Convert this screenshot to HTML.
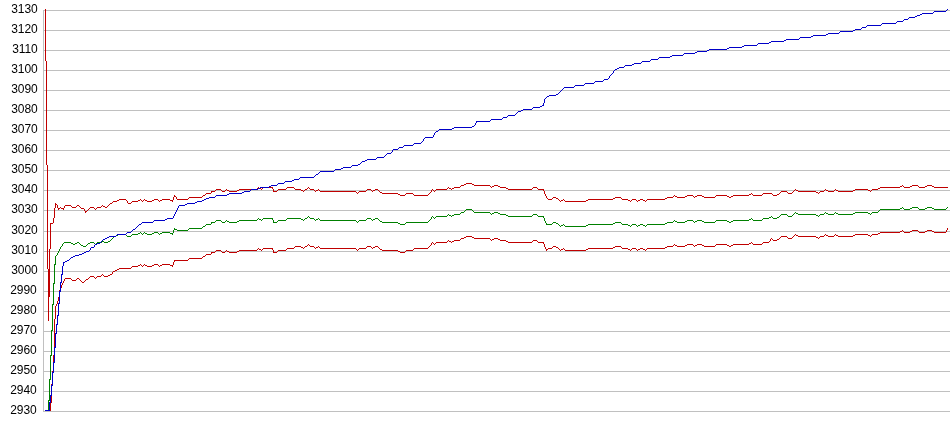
<!DOCTYPE html>
<html><head><meta charset="utf-8"><title>chart</title>
<style>
html,body{margin:0;padding:0;background:#fff;}
svg{display:block;}
text{font-family:"Liberation Sans",Arial,sans-serif;font-size:12px;fill:#000;letter-spacing:-0.1px;}
</style></head><body>
<svg style="will-change:transform" width="950" height="435" viewBox="0 0 950 435">
<rect x="0" y="0" width="950" height="435" fill="#ffffff"/>
<g shape-rendering="crispEdges" fill="#c0c0c0">
<rect x="43" y="10" width="907" height="1"/>
<rect x="43" y="30" width="907" height="1"/>
<rect x="43" y="50" width="907" height="1"/>
<rect x="43" y="70" width="907" height="1"/>
<rect x="43" y="90" width="907" height="1"/>
<rect x="43" y="110" width="907" height="1"/>
<rect x="43" y="130" width="907" height="1"/>
<rect x="43" y="150" width="907" height="1"/>
<rect x="43" y="170" width="907" height="1"/>
<rect x="43" y="190" width="907" height="1"/>
<rect x="43" y="210" width="907" height="1"/>
<rect x="43" y="231" width="907" height="1"/>
<rect x="43" y="251" width="907" height="1"/>
<rect x="43" y="271" width="907" height="1"/>
<rect x="43" y="291" width="907" height="1"/>
<rect x="43" y="311" width="907" height="1"/>
<rect x="43" y="331" width="907" height="1"/>
<rect x="43" y="351" width="907" height="1"/>
<rect x="43" y="371" width="907" height="1"/>
<rect x="43" y="391" width="907" height="1"/>
<rect x="43" y="411" width="907" height="1"/>
<rect x="43" y="10" width="1" height="402"/>
</g>
<g text-anchor="end">
<text x="37.6" y="13">3130</text>
<text x="37.6" y="33">3120</text>
<text x="37.6" y="53">3110</text>
<text x="37.6" y="73">3100</text>
<text x="37.6" y="93">3090</text>
<text x="37.6" y="113">3080</text>
<text x="37.6" y="133">3070</text>
<text x="37.6" y="153">3060</text>
<text x="37.6" y="173">3050</text>
<text x="37.6" y="193">3040</text>
<text x="37.6" y="213">3030</text>
<text x="37.6" y="234">3020</text>
<text x="37.6" y="254">3010</text>
<text x="37.6" y="274">3000</text>
<text x="36.6" y="294">2990</text>
<text x="36.6" y="314">2980</text>
<text x="36.6" y="334">2970</text>
<text x="36.6" y="354">2960</text>
<text x="36.6" y="374">2950</text>
<text x="36.6" y="394">2940</text>
<text x="36.6" y="414">2930</text>
</g>
<g stroke="none" shape-rendering="crispEdges">
<path fill="#008000" d="M902 207h1v1h-1zM912 207h6v1h-6zM927 207h5v1h-5zM947 207h1v1h-1zM900 208h2v1h-2zM903 208h1v1h-1zM910 208h2v1h-2zM918 208h1v1h-1zM925 208h2v1h-2zM932 208h2v1h-2zM946 208h1v1h-1zM466 209h6v1h-6zM880 209h20v1h-20zM904 209h6v1h-6zM919 209h6v1h-6zM934 209h12v1h-12zM465 210h1v1h-1zM472 210h1v1h-1zM879 210h1v1h-1zM464 211h1v1h-1zM473 211h1v1h-1zM878 211h1v1h-1zM461 212h3v1h-3zM474 212h16v1h-16zM494 212h4v1h-4zM795 212h1v1h-1zM825 212h1v1h-1zM835 212h1v1h-1zM855 212h13v1h-13zM872 212h6v1h-6zM460 213h1v1h-1zM490 213h1v1h-1zM492 213h2v1h-2zM498 213h2v1h-2zM794 213h1v1h-1zM796 213h2v1h-2zM824 213h1v1h-1zM826 213h2v1h-2zM834 213h1v1h-1zM836 213h2v1h-2zM853 213h2v1h-2zM868 213h2v1h-2zM871 213h1v1h-1zM448 214h1v1h-1zM454 214h6v1h-6zM491 214h1v1h-1zM500 214h6v1h-6zM533 214h4v1h-4zM781 214h6v1h-6zM793 214h1v1h-1zM798 214h18v1h-18zM820 214h4v1h-4zM828 214h6v1h-6zM838 214h15v1h-15zM870 214h1v1h-1zM447 215h1v1h-1zM449 215h2v1h-2zM452 215h2v1h-2zM506 215h2v1h-2zM532 215h1v1h-1zM537 215h1v1h-1zM780 215h1v1h-1zM787 215h1v1h-1zM792 215h1v1h-1zM816 215h2v1h-2zM819 215h1v1h-1zM308 216h1v1h-1zM432 216h1v1h-1zM436 216h11v1h-11zM451 216h1v1h-1zM508 216h24v1h-24zM538 216h6v1h-6zM771 216h1v1h-1zM779 216h1v1h-1zM788 216h4v1h-4zM818 216h1v1h-1zM307 217h1v1h-1zM309 217h1v1h-1zM431 217h1v1h-1zM433 217h1v1h-1zM435 217h1v1h-1zM543 217h1v1h-1zM769 217h2v1h-2zM772 217h1v1h-1zM777 217h2v1h-2zM258 218h1v1h-1zM263 218h10v1h-10zM287 218h14v1h-14zM305 218h2v1h-2zM310 218h4v1h-4zM318 218h1v1h-1zM367 218h4v1h-4zM375 218h3v1h-3zM431 218h1v1h-1zM434 218h1v1h-1zM544 218h1v1h-1zM751 218h1v1h-1zM763 218h6v1h-6zM773 218h4v1h-4zM257 219h1v1h-1zM259 219h2v1h-2zM262 219h1v1h-1zM272 219h1v1h-1zM286 219h1v1h-1zM301 219h2v1h-2zM304 219h1v1h-1zM314 219h1v1h-1zM316 219h2v1h-2zM319 219h1v1h-1zM366 219h1v1h-1zM371 219h1v1h-1zM373 219h2v1h-2zM378 219h1v1h-1zM430 219h1v1h-1zM544 219h1v1h-1zM749 219h2v1h-2zM752 219h1v1h-1zM762 219h1v1h-1zM216 220h5v1h-5zM226 220h1v1h-1zM239 220h18v1h-18zM261 220h1v1h-1zM273 220h1v1h-1zM278 220h8v1h-8zM303 220h1v1h-1zM315 220h1v1h-1zM320 220h36v1h-36zM359 220h7v1h-7zM372 220h1v1h-1zM379 220h1v1h-1zM429 220h1v1h-1zM544 220h1v1h-1zM674 220h1v1h-1zM687 220h6v1h-6zM697 220h5v1h-5zM716 220h11v1h-11zM733 220h16v1h-16zM753 220h9v1h-9zM215 221h1v1h-1zM221 221h1v1h-1zM225 221h1v1h-1zM227 221h2v1h-2zM237 221h2v1h-2zM273 221h1v1h-1zM277 221h1v1h-1zM356 221h1v1h-1zM358 221h1v1h-1zM380 221h2v1h-2zM428 221h1v1h-1zM545 221h1v1h-1zM673 221h1v1h-1zM675 221h2v1h-2zM685 221h2v1h-2zM693 221h1v1h-1zM695 221h2v1h-2zM702 221h2v1h-2zM715 221h1v1h-1zM727 221h2v1h-2zM731 221h2v1h-2zM211 222h4v1h-4zM222 222h3v1h-3zM229 222h8v1h-8zM273 222h4v1h-4zM357 222h1v1h-1zM382 222h16v1h-16zM406 222h22v1h-22zM545 222h1v1h-1zM553 222h3v1h-3zM615 222h6v1h-6zM667 222h6v1h-6zM677 222h8v1h-8zM694 222h1v1h-1zM704 222h11v1h-11zM729 222h2v1h-2zM211 223h1v1h-1zM398 223h2v1h-2zM405 223h1v1h-1zM546 223h1v1h-1zM552 223h1v1h-1zM556 223h2v1h-2zM613 223h2v1h-2zM621 223h1v1h-1zM665 223h2v1h-2zM206 224h5v1h-5zM400 224h5v1h-5zM546 224h6v1h-6zM558 224h1v1h-1zM563 224h1v1h-1zM588 224h25v1h-25zM622 224h6v1h-6zM632 224h4v1h-4zM640 224h3v1h-3zM647 224h18v1h-18zM205 225h1v1h-1zM559 225h1v1h-1zM561 225h2v1h-2zM564 225h1v1h-1zM586 225h2v1h-2zM628 225h2v1h-2zM631 225h1v1h-1zM636 225h1v1h-1zM638 225h2v1h-2zM643 225h2v1h-2zM646 225h1v1h-1zM203 226h2v1h-2zM560 226h1v1h-1zM565 226h21v1h-21zM630 226h1v1h-1zM637 226h1v1h-1zM645 226h1v1h-1zM202 227h1v1h-1zM174 228h1v1h-1zM189 228h13v1h-13zM174 229h3v1h-3zM188 229h1v1h-1zM173 230h1v1h-1zM177 230h11v1h-11zM173 231h1v1h-1zM140 232h1v1h-1zM144 232h1v1h-1zM154 232h4v1h-4zM162 232h8v1h-8zM173 232h1v1h-1zM138 233h2v1h-2zM141 233h1v1h-1zM143 233h1v1h-1zM145 233h2v1h-2zM152 233h2v1h-2zM158 233h1v1h-1zM160 233h2v1h-2zM170 233h3v1h-3zM118 234h8v1h-8zM132 234h6v1h-6zM142 234h1v1h-1zM147 234h5v1h-5zM159 234h1v1h-1zM172 234h1v1h-1zM116 235h2v1h-2zM126 235h1v1h-1zM131 235h1v1h-1zM114 236h2v1h-2zM127 236h4v1h-4zM113 237h1v1h-1zM112 238h1v1h-1zM111 239h1v1h-1zM110 240h1v1h-1zM102 241h2v1h-2zM108 241h2v1h-2zM64 242h7v1h-7zM77 242h2v1h-2zM90 242h4v1h-4zM97 242h5v1h-5zM104 242h4v1h-4zM63 243h1v1h-1zM71 243h2v1h-2zM75 243h2v1h-2zM79 243h1v1h-1zM88 243h2v1h-2zM94 243h1v1h-1zM96 243h1v1h-1zM62 244h1v1h-1zM73 244h2v1h-2zM80 244h1v1h-1zM87 244h1v1h-1zM95 244h1v1h-1zM62 245h1v1h-1zM81 245h2v1h-2zM86 245h1v1h-1zM61 246h1v1h-1zM83 246h3v1h-3zM60 247h1v1h-1zM60 248h1v1h-1zM59 249h1v1h-1zM59 250h1v1h-1zM58 251h1v1h-1zM58 252h1v1h-1zM57 253h1v1h-1zM57 254h1v1h-1zM56 255h1v1h-1zM55 256h1v1h-1zM55 257h1v1h-1zM55 258h1v1h-1zM55 259h1v1h-1zM55 260h1v1h-1zM55 261h1v1h-1zM55 262h1v1h-1zM55 263h1v1h-1zM54 264h2v1h-2zM54 265h1v1h-1zM54 266h1v1h-1zM54 267h1v1h-1zM54 268h1v1h-1zM54 269h1v1h-1zM54 270h1v1h-1zM54 271h1v1h-1zM54 272h1v1h-1zM54 273h1v1h-1zM54 274h1v1h-1zM54 275h1v1h-1zM54 276h1v1h-1zM54 277h1v1h-1zM54 278h1v1h-1zM54 279h1v1h-1zM54 280h1v1h-1zM54 281h1v1h-1zM54 282h1v1h-1zM53 283h2v1h-2zM53 284h1v1h-1zM53 285h1v1h-1zM53 286h1v1h-1zM53 287h1v1h-1zM53 288h1v1h-1zM53 289h1v1h-1zM53 290h1v1h-1zM53 291h1v1h-1zM53 292h1v1h-1zM53 293h1v1h-1zM53 294h1v1h-1zM53 295h1v1h-1zM53 296h1v1h-1zM53 297h1v1h-1zM53 298h1v1h-1zM53 299h1v1h-1zM53 300h1v1h-1zM53 301h1v1h-1zM53 302h1v1h-1zM53 303h1v1h-1zM52 304h2v1h-2zM52 305h1v1h-1zM52 306h1v1h-1zM52 307h1v1h-1zM52 308h1v1h-1zM52 309h1v1h-1zM52 310h1v1h-1zM52 311h1v1h-1zM52 312h1v1h-1zM52 313h1v1h-1zM52 314h1v1h-1zM52 315h1v1h-1zM52 316h1v1h-1zM52 317h1v1h-1zM52 318h1v1h-1zM52 319h1v1h-1zM52 320h1v1h-1zM52 321h1v1h-1zM52 322h1v1h-1zM52 323h1v1h-1zM52 324h1v1h-1zM52 325h1v1h-1zM52 326h1v1h-1zM52 327h1v1h-1zM52 328h1v1h-1zM52 329h1v1h-1zM51 330h2v1h-2zM51 331h1v1h-1zM51 332h1v1h-1zM51 333h1v1h-1zM51 334h1v1h-1zM51 335h1v1h-1zM51 336h1v1h-1zM51 337h1v1h-1zM51 338h1v1h-1zM51 339h1v1h-1zM51 340h1v1h-1zM51 341h1v1h-1zM51 342h1v1h-1zM51 343h1v1h-1zM51 344h1v1h-1zM51 345h1v1h-1zM51 346h1v1h-1zM51 347h1v1h-1zM51 348h1v1h-1zM51 349h1v1h-1zM51 350h1v1h-1zM51 351h1v1h-1zM51 352h1v1h-1zM51 353h1v1h-1zM51 354h1v1h-1zM50 355h2v1h-2zM50 356h1v1h-1zM50 357h1v1h-1zM50 358h1v1h-1zM50 359h1v1h-1zM50 360h1v1h-1zM50 361h1v1h-1zM50 362h1v1h-1zM50 363h1v1h-1zM50 364h1v1h-1zM50 365h1v1h-1zM50 366h1v1h-1zM50 367h1v1h-1zM50 368h1v1h-1zM50 369h1v1h-1zM50 370h1v1h-1zM50 371h1v1h-1zM50 372h1v1h-1zM50 373h1v1h-1zM50 374h1v1h-1zM50 375h1v1h-1zM50 376h1v1h-1zM50 377h1v1h-1zM50 378h1v1h-1zM49 379h2v1h-2zM49 380h1v1h-1zM49 381h1v1h-1zM49 382h1v1h-1zM49 383h1v1h-1zM49 384h1v1h-1zM49 385h1v1h-1zM49 386h1v1h-1zM49 387h1v1h-1zM49 388h1v1h-1zM49 389h1v1h-1zM49 390h1v1h-1zM49 391h1v1h-1zM49 392h1v1h-1zM49 393h1v1h-1zM49 394h1v1h-1zM49 395h1v1h-1zM49 396h1v1h-1zM49 397h1v1h-1zM49 398h1v1h-1zM49 399h1v1h-1zM48 400h2v1h-2zM48 401h1v1h-1zM48 402h1v1h-1zM48 403h1v1h-1zM48 404h1v1h-1zM48 405h1v1h-1zM48 406h1v1h-1zM48 407h1v1h-1zM48 408h1v1h-1zM48 409h1v1h-1zM48 410h1v1h-1z"/>
<path fill="#c00000" d="M947 228h1v1h-1zM947 229h1v1h-1zM902 230h1v1h-1zM912 230h6v1h-6zM927 230h5v1h-5zM946 230h1v1h-1zM900 231h2v1h-2zM903 231h1v1h-1zM910 231h2v1h-2zM918 231h1v1h-1zM925 231h2v1h-2zM932 231h2v1h-2zM946 231h1v1h-1zM880 232h20v1h-20zM904 232h6v1h-6zM919 232h6v1h-6zM934 232h12v1h-12zM878 233h2v1h-2zM795 234h1v1h-1zM825 234h1v1h-1zM835 234h1v1h-1zM855 234h13v1h-13zM872 234h6v1h-6zM794 235h1v1h-1zM796 235h2v1h-2zM824 235h1v1h-1zM826 235h2v1h-2zM834 235h1v1h-1zM836 235h2v1h-2zM853 235h2v1h-2zM868 235h2v1h-2zM871 235h1v1h-1zM466 236h6v1h-6zM781 236h6v1h-6zM793 236h1v1h-1zM798 236h18v1h-18zM820 236h4v1h-4zM828 236h6v1h-6zM838 236h15v1h-15zM870 236h1v1h-1zM464 237h2v1h-2zM472 237h2v1h-2zM780 237h1v1h-1zM787 237h1v1h-1zM792 237h1v1h-1zM816 237h2v1h-2zM819 237h1v1h-1zM461 238h3v1h-3zM474 238h16v1h-16zM494 238h4v1h-4zM771 238h1v1h-1zM779 238h1v1h-1zM788 238h4v1h-4zM818 238h1v1h-1zM460 239h1v1h-1zM490 239h1v1h-1zM492 239h2v1h-2zM498 239h2v1h-2zM770 239h1v1h-1zM772 239h1v1h-1zM777 239h2v1h-2zM448 240h1v1h-1zM454 240h6v1h-6zM491 240h1v1h-1zM500 240h6v1h-6zM533 240h4v1h-4zM770 240h1v1h-1zM773 240h4v1h-4zM447 241h1v1h-1zM449 241h2v1h-2zM452 241h2v1h-2zM506 241h2v1h-2zM532 241h1v1h-1zM537 241h1v1h-1zM769 241h1v1h-1zM432 242h1v1h-1zM436 242h11v1h-11zM451 242h1v1h-1zM508 242h24v1h-24zM538 242h6v1h-6zM751 242h1v1h-1zM763 242h6v1h-6zM431 243h1v1h-1zM433 243h1v1h-1zM435 243h1v1h-1zM543 243h1v1h-1zM749 243h2v1h-2zM752 243h1v1h-1zM762 243h1v1h-1zM308 244h1v1h-1zM431 244h1v1h-1zM434 244h1v1h-1zM544 244h1v1h-1zM674 244h1v1h-1zM687 244h6v1h-6zM697 244h5v1h-5zM716 244h11v1h-11zM733 244h16v1h-16zM753 244h9v1h-9zM307 245h1v1h-1zM309 245h1v1h-1zM430 245h1v1h-1zM544 245h1v1h-1zM673 245h1v1h-1zM675 245h2v1h-2zM685 245h2v1h-2zM693 245h1v1h-1zM695 245h2v1h-2zM702 245h2v1h-2zM715 245h1v1h-1zM727 245h2v1h-2zM731 245h2v1h-2zM295 246h6v1h-6zM305 246h2v1h-2zM310 246h4v1h-4zM318 246h1v1h-1zM367 246h4v1h-4zM375 246h3v1h-3zM429 246h1v1h-1zM544 246h1v1h-1zM553 246h3v1h-3zM615 246h6v1h-6zM667 246h6v1h-6zM677 246h8v1h-8zM694 246h1v1h-1zM704 246h11v1h-11zM729 246h2v1h-2zM294 247h1v1h-1zM301 247h2v1h-2zM304 247h1v1h-1zM314 247h1v1h-1zM316 247h2v1h-2zM319 247h1v1h-1zM366 247h1v1h-1zM371 247h1v1h-1zM373 247h2v1h-2zM378 247h1v1h-1zM428 247h1v1h-1zM545 247h1v1h-1zM552 247h1v1h-1zM556 247h2v1h-2zM613 247h2v1h-2zM621 247h1v1h-1zM665 247h2v1h-2zM258 248h1v1h-1zM263 248h10v1h-10zM287 248h7v1h-7zM303 248h1v1h-1zM315 248h1v1h-1zM320 248h36v1h-36zM359 248h7v1h-7zM372 248h1v1h-1zM379 248h1v1h-1zM414 248h14v1h-14zM545 248h1v1h-1zM548 248h4v1h-4zM558 248h1v1h-1zM563 248h1v1h-1zM588 248h25v1h-25zM622 248h6v1h-6zM632 248h4v1h-4zM640 248h3v1h-3zM647 248h18v1h-18zM257 249h1v1h-1zM259 249h2v1h-2zM262 249h1v1h-1zM272 249h1v1h-1zM286 249h1v1h-1zM356 249h1v1h-1zM358 249h1v1h-1zM380 249h2v1h-2zM413 249h1v1h-1zM546 249h2v1h-2zM559 249h1v1h-1zM561 249h2v1h-2zM564 249h1v1h-1zM586 249h2v1h-2zM628 249h2v1h-2zM631 249h1v1h-1zM636 249h1v1h-1zM638 249h2v1h-2zM643 249h2v1h-2zM646 249h1v1h-1zM216 250h5v1h-5zM226 250h1v1h-1zM239 250h18v1h-18zM261 250h1v1h-1zM273 250h1v1h-1zM278 250h8v1h-8zM357 250h1v1h-1zM382 250h16v1h-16zM406 250h7v1h-7zM546 250h1v1h-1zM560 250h1v1h-1zM565 250h21v1h-21zM630 250h1v1h-1zM637 250h1v1h-1zM645 250h1v1h-1zM215 251h1v1h-1zM221 251h1v1h-1zM225 251h1v1h-1zM227 251h2v1h-2zM237 251h2v1h-2zM273 251h1v1h-1zM277 251h1v1h-1zM398 251h2v1h-2zM405 251h1v1h-1zM211 252h4v1h-4zM222 252h3v1h-3zM229 252h8v1h-8zM273 252h4v1h-4zM400 252h5v1h-5zM211 253h1v1h-1zM206 254h5v1h-5zM205 255h1v1h-1zM203 256h2v1h-2zM202 257h1v1h-1zM189 258h13v1h-13zM188 259h1v1h-1zM174 260h14v1h-14zM174 261h1v1h-1zM173 262h1v1h-1zM173 263h1v1h-1zM140 264h1v1h-1zM144 264h1v1h-1zM154 264h4v1h-4zM162 264h8v1h-8zM173 264h1v1h-1zM138 265h2v1h-2zM141 265h1v1h-1zM143 265h1v1h-1zM145 265h2v1h-2zM152 265h2v1h-2zM158 265h1v1h-1zM160 265h2v1h-2zM170 265h3v1h-3zM132 266h6v1h-6zM142 266h1v1h-1zM147 266h5v1h-5zM159 266h1v1h-1zM172 266h1v1h-1zM131 267h1v1h-1zM119 268h12v1h-12zM117 269h2v1h-2zM115 270h2v1h-2zM113 271h2v1h-2zM112 272h1v1h-1zM112 273h1v1h-1zM102 274h1v1h-1zM110 274h2v1h-2zM101 275h1v1h-1zM103 275h1v1h-1zM108 275h2v1h-2zM90 276h4v1h-4zM97 276h4v1h-4zM104 276h4v1h-4zM89 277h1v1h-1zM94 277h1v1h-1zM96 277h1v1h-1zM65 278h6v1h-6zM77 278h2v1h-2zM88 278h1v1h-1zM95 278h1v1h-1zM64 279h1v1h-1zM71 279h1v1h-1zM76 279h1v1h-1zM79 279h1v1h-1zM86 279h2v1h-2zM64 280h1v1h-1zM72 280h4v1h-4zM80 280h1v1h-1zM85 280h1v1h-1zM63 281h1v1h-1zM81 281h1v1h-1zM84 281h1v1h-1zM63 282h1v1h-1zM82 282h2v1h-2zM62 283h1v1h-1zM62 284h1v1h-1zM61 285h1v1h-1zM61 286h1v1h-1zM61 287h1v1h-1zM60 288h1v1h-1zM60 289h1v1h-1zM59 290h1v1h-1zM59 291h1v1h-1zM59 292h1v1h-1zM59 293h1v1h-1zM59 294h1v1h-1zM59 295h1v1h-1zM59 296h1v1h-1zM58 297h1v1h-1zM58 298h1v1h-1zM58 299h1v1h-1zM58 300h1v1h-1zM57 301h1v1h-1zM57 302h1v1h-1zM57 303h1v1h-1zM56 304h1v1h-1zM56 305h1v1h-1zM55 306h1v1h-1zM55 307h1v1h-1zM55 308h1v1h-1zM55 309h1v1h-1zM55 310h1v1h-1zM55 311h1v1h-1zM55 312h1v1h-1zM55 313h1v1h-1zM55 314h1v1h-1zM55 315h1v1h-1zM55 316h1v1h-1zM55 317h1v1h-1zM55 318h1v1h-1zM54 319h1v1h-1zM54 320h1v1h-1zM54 321h1v1h-1zM54 322h1v1h-1zM54 323h1v1h-1zM54 324h1v1h-1zM54 325h1v1h-1zM54 326h1v1h-1zM54 327h1v1h-1zM54 328h1v1h-1zM54 329h1v1h-1zM54 330h1v1h-1zM54 331h1v1h-1zM54 332h1v1h-1zM54 333h1v1h-1zM54 334h1v1h-1zM54 335h1v1h-1zM54 336h1v1h-1zM54 337h1v1h-1zM54 338h1v1h-1zM54 339h1v1h-1zM54 340h1v1h-1zM54 341h1v1h-1zM54 342h1v1h-1zM54 343h1v1h-1zM54 344h1v1h-1zM54 345h1v1h-1zM54 346h1v1h-1zM54 347h1v1h-1zM54 348h1v1h-1zM54 349h1v1h-1zM54 350h1v1h-1zM54 351h1v1h-1zM54 352h1v1h-1zM54 353h1v1h-1zM54 354h1v1h-1zM53 355h1v1h-1zM53 356h1v1h-1zM53 357h1v1h-1zM53 358h1v1h-1zM53 359h1v1h-1zM53 360h1v1h-1zM53 361h1v1h-1zM53 362h1v1h-1zM53 363h1v1h-1zM53 364h1v1h-1zM53 365h1v1h-1zM53 366h1v1h-1zM53 367h1v1h-1zM53 368h1v1h-1zM53 369h1v1h-1zM53 370h1v1h-1zM52 371h1v1h-1zM52 372h1v1h-1zM52 373h1v1h-1zM52 374h1v1h-1zM52 375h1v1h-1zM52 376h1v1h-1zM52 377h1v1h-1zM52 378h1v1h-1zM52 379h1v1h-1zM52 380h1v1h-1zM52 381h1v1h-1zM52 382h1v1h-1zM52 383h1v1h-1zM51 384h1v1h-1zM51 385h1v1h-1zM51 386h1v1h-1zM51 387h1v1h-1zM51 388h1v1h-1zM51 389h1v1h-1zM51 390h1v1h-1zM51 391h1v1h-1zM51 392h1v1h-1zM51 393h1v1h-1zM51 394h1v1h-1zM51 395h1v1h-1zM51 396h1v1h-1zM51 397h1v1h-1zM51 398h1v1h-1zM51 399h1v1h-1zM51 400h1v1h-1zM51 401h1v1h-1zM50 402h2v1h-2zM50 403h1v1h-1zM50 404h1v1h-1zM50 405h1v1h-1zM50 406h1v1h-1zM50 407h1v1h-1zM50 408h1v1h-1zM50 409h1v1h-1zM50 410h1v1h-1z"/>
<path fill="#c00000" d="M45 9h1v1h-1zM45 10h1v1h-1zM45 11h1v1h-1zM45 12h1v1h-1zM45 13h1v1h-1zM45 14h1v1h-1zM45 15h1v1h-1zM45 16h1v1h-1zM45 17h1v1h-1zM45 18h1v1h-1zM45 19h1v1h-1zM45 20h1v1h-1zM45 21h1v1h-1zM45 22h1v1h-1zM45 23h1v1h-1zM45 24h1v1h-1zM45 25h1v1h-1zM45 26h1v1h-1zM45 27h1v1h-1zM45 28h1v1h-1zM45 29h1v1h-1zM45 30h1v1h-1zM45 31h1v1h-1zM45 32h1v1h-1zM45 33h1v1h-1zM45 34h1v1h-1zM45 35h1v1h-1zM45 36h1v1h-1zM45 37h1v1h-1zM45 38h1v1h-1zM45 39h1v1h-1zM45 40h1v1h-1zM45 41h1v1h-1zM45 42h1v1h-1zM45 43h1v1h-1zM45 44h1v1h-1zM45 45h1v1h-1zM45 46h1v1h-1zM45 47h1v1h-1zM45 48h1v1h-1zM45 49h1v1h-1zM45 50h1v1h-1zM45 51h1v1h-1zM45 52h1v1h-1zM45 53h1v1h-1zM45 54h1v1h-1zM45 55h1v1h-1zM45 56h1v1h-1zM45 57h1v1h-1zM45 58h1v1h-1zM45 59h1v1h-1zM45 60h1v1h-1zM46 61h1v1h-1zM46 62h1v1h-1zM46 63h1v1h-1zM46 64h1v1h-1zM46 65h1v1h-1zM46 66h1v1h-1zM46 67h1v1h-1zM46 68h1v1h-1zM46 69h1v1h-1zM46 70h1v1h-1zM46 71h1v1h-1zM46 72h1v1h-1zM46 73h1v1h-1zM46 74h1v1h-1zM46 75h1v1h-1zM46 76h1v1h-1zM46 77h1v1h-1zM46 78h1v1h-1zM46 79h1v1h-1zM46 80h1v1h-1zM46 81h1v1h-1zM46 82h1v1h-1zM46 83h1v1h-1zM46 84h1v1h-1zM46 85h1v1h-1zM46 86h1v1h-1zM46 87h1v1h-1zM46 88h1v1h-1zM46 89h1v1h-1zM46 90h1v1h-1zM46 91h1v1h-1zM46 92h1v1h-1zM46 93h1v1h-1zM46 94h1v1h-1zM46 95h1v1h-1zM46 96h1v1h-1zM46 97h1v1h-1zM46 98h1v1h-1zM46 99h1v1h-1zM46 100h1v1h-1zM46 101h1v1h-1zM46 102h1v1h-1zM46 103h1v1h-1zM46 104h1v1h-1zM46 105h1v1h-1zM46 106h1v1h-1zM46 107h1v1h-1zM46 108h1v1h-1zM46 109h1v1h-1zM46 110h1v1h-1zM46 111h1v1h-1zM46 112h1v1h-1zM46 113h1v1h-1zM46 114h1v1h-1zM46 115h1v1h-1zM46 116h1v1h-1zM46 117h1v1h-1zM46 118h1v1h-1zM46 119h1v1h-1zM46 120h1v1h-1zM46 121h1v1h-1zM46 122h1v1h-1zM46 123h1v1h-1zM46 124h1v1h-1zM46 125h1v1h-1zM46 126h1v1h-1zM46 127h1v1h-1zM46 128h1v1h-1zM46 129h1v1h-1zM46 130h1v1h-1zM46 131h1v1h-1zM46 132h1v1h-1zM46 133h1v1h-1zM46 134h1v1h-1zM46 135h1v1h-1zM46 136h1v1h-1zM46 137h1v1h-1zM46 138h1v1h-1zM46 139h1v1h-1zM46 140h1v1h-1zM46 141h1v1h-1zM46 142h1v1h-1zM46 143h1v1h-1zM46 144h1v1h-1zM46 145h1v1h-1zM46 146h1v1h-1zM46 147h1v1h-1zM46 148h1v1h-1zM46 149h1v1h-1zM46 150h1v1h-1zM46 151h1v1h-1zM46 152h1v1h-1zM46 153h1v1h-1zM46 154h1v1h-1zM46 155h1v1h-1zM46 156h1v1h-1zM46 157h1v1h-1zM46 158h1v1h-1zM46 159h1v1h-1zM46 160h1v1h-1zM46 161h1v1h-1zM46 162h1v1h-1zM46 163h1v1h-1zM46 164h1v1h-1zM47 165h1v1h-1zM47 166h1v1h-1zM47 167h1v1h-1zM47 168h1v1h-1zM47 169h1v1h-1zM47 170h1v1h-1zM47 171h1v1h-1zM47 172h1v1h-1zM47 173h1v1h-1zM47 174h1v1h-1zM47 175h1v1h-1zM47 176h1v1h-1zM47 177h1v1h-1zM47 178h1v1h-1zM47 179h1v1h-1zM47 180h1v1h-1zM47 181h1v1h-1zM47 182h1v1h-1zM47 183h1v1h-1zM466 183h6v1h-6zM47 184h1v1h-1zM464 184h2v1h-2zM472 184h2v1h-2zM47 185h1v1h-1zM461 185h3v1h-3zM474 185h16v1h-16zM494 185h4v1h-4zM902 185h1v1h-1zM912 185h6v1h-6zM927 185h5v1h-5zM47 186h1v1h-1zM460 186h1v1h-1zM490 186h1v1h-1zM492 186h2v1h-2zM498 186h2v1h-2zM900 186h2v1h-2zM903 186h1v1h-1zM910 186h2v1h-2zM918 186h1v1h-1zM925 186h2v1h-2zM932 186h2v1h-2zM47 187h1v1h-1zM258 187h1v1h-1zM263 187h10v1h-10zM287 187h7v1h-7zM308 187h1v1h-1zM448 187h1v1h-1zM454 187h6v1h-6zM491 187h1v1h-1zM500 187h6v1h-6zM533 187h4v1h-4zM880 187h20v1h-20zM904 187h6v1h-6zM919 187h6v1h-6zM934 187h14v1h-14zM47 188h1v1h-1zM257 188h1v1h-1zM259 188h2v1h-2zM262 188h1v1h-1zM272 188h1v1h-1zM286 188h1v1h-1zM294 188h1v1h-1zM307 188h1v1h-1zM309 188h1v1h-1zM447 188h1v1h-1zM449 188h2v1h-2zM452 188h2v1h-2zM506 188h2v1h-2zM532 188h1v1h-1zM537 188h1v1h-1zM878 188h2v1h-2zM47 189h1v1h-1zM216 189h5v1h-5zM226 189h1v1h-1zM239 189h18v1h-18zM261 189h1v1h-1zM273 189h1v1h-1zM278 189h8v1h-8zM295 189h6v1h-6zM305 189h2v1h-2zM310 189h4v1h-4zM318 189h1v1h-1zM367 189h4v1h-4zM375 189h3v1h-3zM432 189h1v1h-1zM436 189h11v1h-11zM451 189h1v1h-1zM508 189h24v1h-24zM538 189h6v1h-6zM795 189h1v1h-1zM825 189h1v1h-1zM835 189h1v1h-1zM855 189h13v1h-13zM872 189h6v1h-6zM47 190h1v1h-1zM215 190h1v1h-1zM221 190h1v1h-1zM225 190h1v1h-1zM227 190h2v1h-2zM237 190h2v1h-2zM273 190h1v1h-1zM277 190h1v1h-1zM301 190h2v1h-2zM304 190h1v1h-1zM314 190h1v1h-1zM316 190h2v1h-2zM319 190h1v1h-1zM366 190h1v1h-1zM371 190h1v1h-1zM373 190h2v1h-2zM378 190h1v1h-1zM431 190h1v1h-1zM433 190h1v1h-1zM435 190h1v1h-1zM543 190h1v1h-1zM794 190h1v1h-1zM796 190h2v1h-2zM824 190h1v1h-1zM826 190h2v1h-2zM834 190h1v1h-1zM836 190h2v1h-2zM853 190h2v1h-2zM868 190h2v1h-2zM871 190h1v1h-1zM47 191h1v1h-1zM211 191h4v1h-4zM222 191h3v1h-3zM229 191h8v1h-8zM273 191h4v1h-4zM303 191h1v1h-1zM315 191h1v1h-1zM320 191h36v1h-36zM359 191h7v1h-7zM372 191h1v1h-1zM379 191h1v1h-1zM431 191h1v1h-1zM434 191h1v1h-1zM544 191h1v1h-1zM781 191h6v1h-6zM793 191h1v1h-1zM798 191h18v1h-18zM820 191h4v1h-4zM828 191h6v1h-6zM838 191h15v1h-15zM870 191h1v1h-1zM47 192h1v1h-1zM211 192h1v1h-1zM356 192h1v1h-1zM358 192h1v1h-1zM380 192h2v1h-2zM430 192h1v1h-1zM544 192h1v1h-1zM780 192h1v1h-1zM787 192h1v1h-1zM792 192h1v1h-1zM816 192h2v1h-2zM819 192h1v1h-1zM47 193h1v1h-1zM206 193h5v1h-5zM357 193h1v1h-1zM382 193h16v1h-16zM406 193h7v1h-7zM429 193h1v1h-1zM544 193h1v1h-1zM751 193h1v1h-1zM763 193h9v1h-9zM779 193h1v1h-1zM788 193h4v1h-4zM818 193h1v1h-1zM47 194h1v1h-1zM205 194h1v1h-1zM398 194h2v1h-2zM405 194h1v1h-1zM413 194h1v1h-1zM428 194h1v1h-1zM545 194h1v1h-1zM749 194h2v1h-2zM752 194h1v1h-1zM762 194h1v1h-1zM772 194h1v1h-1zM777 194h2v1h-2zM47 195h1v1h-1zM174 195h1v1h-1zM203 195h2v1h-2zM400 195h5v1h-5zM414 195h14v1h-14zM545 195h1v1h-1zM674 195h1v1h-1zM687 195h6v1h-6zM697 195h5v1h-5zM716 195h11v1h-11zM733 195h16v1h-16zM753 195h9v1h-9zM773 195h4v1h-4zM47 196h1v1h-1zM174 196h2v1h-2zM202 196h1v1h-1zM546 196h1v1h-1zM673 196h1v1h-1zM675 196h2v1h-2zM685 196h2v1h-2zM693 196h1v1h-1zM695 196h2v1h-2zM702 196h2v1h-2zM715 196h1v1h-1zM727 196h2v1h-2zM731 196h2v1h-2zM47 197h1v1h-1zM173 197h1v1h-1zM176 197h1v1h-1zM189 197h13v1h-13zM546 197h1v1h-1zM553 197h3v1h-3zM615 197h6v1h-6zM667 197h6v1h-6zM677 197h8v1h-8zM694 197h1v1h-1zM704 197h11v1h-11zM729 197h2v1h-2zM47 198h1v1h-1zM173 198h1v1h-1zM176 198h1v1h-1zM188 198h1v1h-1zM547 198h1v1h-1zM552 198h1v1h-1zM556 198h2v1h-2zM613 198h2v1h-2zM621 198h1v1h-1zM665 198h2v1h-2zM47 199h1v1h-1zM119 199h7v1h-7zM140 199h1v1h-1zM144 199h1v1h-1zM154 199h4v1h-4zM162 199h8v1h-8zM173 199h1v1h-1zM177 199h11v1h-11zM548 199h4v1h-4zM558 199h1v1h-1zM563 199h1v1h-1zM588 199h25v1h-25zM622 199h6v1h-6zM632 199h4v1h-4zM640 199h3v1h-3zM647 199h18v1h-18zM47 200h1v1h-1zM117 200h2v1h-2zM126 200h1v1h-1zM138 200h2v1h-2zM141 200h1v1h-1zM143 200h1v1h-1zM145 200h2v1h-2zM152 200h2v1h-2zM158 200h1v1h-1zM160 200h2v1h-2zM170 200h3v1h-3zM559 200h1v1h-1zM561 200h2v1h-2zM564 200h1v1h-1zM586 200h2v1h-2zM628 200h2v1h-2zM631 200h1v1h-1zM636 200h1v1h-1zM638 200h2v1h-2zM643 200h2v1h-2zM646 200h1v1h-1zM47 201h1v1h-1zM113 201h4v1h-4zM127 201h1v1h-1zM132 201h6v1h-6zM142 201h1v1h-1zM147 201h5v1h-5zM159 201h1v1h-1zM172 201h1v1h-1zM560 201h1v1h-1zM565 201h21v1h-21zM630 201h1v1h-1zM637 201h1v1h-1zM645 201h1v1h-1zM47 202h1v1h-1zM112 202h1v1h-1zM127 202h1v1h-1zM131 202h1v1h-1zM47 203h1v1h-1zM55 203h1v1h-1zM110 203h2v1h-2zM128 203h3v1h-3zM47 204h1v1h-1zM55 204h2v1h-2zM109 204h1v1h-1zM47 205h1v1h-1zM55 205h1v1h-1zM57 205h1v1h-1zM65 205h6v1h-6zM77 205h2v1h-2zM102 205h1v1h-1zM108 205h1v1h-1zM47 206h1v1h-1zM55 206h1v1h-1zM57 206h1v1h-1zM64 206h1v1h-1zM71 206h1v1h-1zM76 206h1v1h-1zM79 206h1v1h-1zM101 206h1v1h-1zM103 206h2v1h-2zM107 206h1v1h-1zM47 207h1v1h-1zM55 207h1v1h-1zM57 207h1v1h-1zM60 207h1v1h-1zM64 207h1v1h-1zM72 207h4v1h-4zM80 207h1v1h-1zM90 207h4v1h-4zM97 207h4v1h-4zM105 207h2v1h-2zM47 208h1v1h-1zM54 208h1v1h-1zM58 208h2v1h-2zM61 208h3v1h-3zM81 208h3v1h-3zM89 208h1v1h-1zM94 208h1v1h-1zM96 208h1v1h-1zM47 209h1v1h-1zM54 209h1v1h-1zM58 209h1v1h-1zM63 209h1v1h-1zM84 209h1v1h-1zM88 209h1v1h-1zM95 209h1v1h-1zM47 210h1v1h-1zM54 210h1v1h-1zM84 210h1v1h-1zM87 210h1v1h-1zM47 211h1v1h-1zM54 211h1v1h-1zM85 211h2v1h-2zM47 212h1v1h-1zM54 212h1v1h-1zM85 212h1v1h-1zM47 213h1v1h-1zM54 213h1v1h-1zM47 214h1v1h-1zM54 214h1v1h-1zM47 215h1v1h-1zM54 215h1v1h-1zM47 216h1v1h-1zM54 216h1v1h-1zM47 217h1v1h-1zM54 217h1v1h-1zM47 218h1v1h-1zM53 218h1v1h-1zM47 219h1v1h-1zM53 219h1v1h-1zM47 220h1v1h-1zM53 220h1v1h-1zM47 221h1v1h-1zM53 221h1v1h-1zM47 222h1v1h-1zM53 222h1v1h-1zM47 223h1v1h-1zM50 223h3v1h-3zM47 224h1v1h-1zM50 224h1v1h-1zM47 225h1v1h-1zM50 225h1v1h-1zM47 226h1v1h-1zM50 226h1v1h-1zM47 227h1v1h-1zM50 227h1v1h-1zM47 228h1v1h-1zM50 228h1v1h-1zM47 229h1v1h-1zM50 229h1v1h-1zM47 230h1v1h-1zM50 230h1v1h-1zM47 231h1v1h-1zM50 231h1v1h-1zM47 232h1v1h-1zM50 232h1v1h-1zM47 233h1v1h-1zM50 233h1v1h-1zM47 234h1v1h-1zM50 234h1v1h-1zM47 235h1v1h-1zM50 235h1v1h-1zM47 236h1v1h-1zM50 236h1v1h-1zM47 237h1v1h-1zM50 237h1v1h-1zM47 238h1v1h-1zM50 238h1v1h-1zM47 239h1v1h-1zM50 239h1v1h-1zM47 240h1v1h-1zM50 240h1v1h-1zM47 241h1v1h-1zM50 241h1v1h-1zM47 242h1v1h-1zM50 242h1v1h-1zM47 243h1v1h-1zM50 243h1v1h-1zM47 244h1v1h-1zM50 244h1v1h-1zM47 245h1v1h-1zM50 245h1v1h-1zM47 246h1v1h-1zM50 246h1v1h-1zM47 247h1v1h-1zM50 247h1v1h-1zM47 248h1v1h-1zM50 248h1v1h-1zM47 249h1v1h-1zM49 249h1v1h-1zM47 250h1v1h-1zM49 250h1v1h-1zM47 251h1v1h-1zM49 251h1v1h-1zM47 252h1v1h-1zM49 252h1v1h-1zM47 253h1v1h-1zM49 253h1v1h-1zM47 254h1v1h-1zM49 254h1v1h-1zM47 255h1v1h-1zM49 255h1v1h-1zM47 256h1v1h-1zM49 256h1v1h-1zM47 257h1v1h-1zM49 257h1v1h-1zM47 258h1v1h-1zM49 258h1v1h-1zM47 259h1v1h-1zM49 259h1v1h-1zM47 260h1v1h-1zM49 260h1v1h-1zM47 261h1v1h-1zM49 261h1v1h-1zM47 262h1v1h-1zM49 262h1v1h-1zM47 263h1v1h-1zM49 263h1v1h-1zM47 264h1v1h-1zM49 264h1v1h-1zM47 265h1v1h-1zM49 265h1v1h-1zM47 266h1v1h-1zM49 266h1v1h-1zM47 267h1v1h-1zM49 267h1v1h-1zM47 268h1v1h-1zM49 268h1v1h-1zM48 269h2v1h-2zM48 270h2v1h-2zM48 271h2v1h-2zM48 272h2v1h-2zM48 273h2v1h-2zM48 274h2v1h-2zM48 275h2v1h-2zM48 276h2v1h-2zM48 277h2v1h-2zM48 278h2v1h-2zM48 279h2v1h-2zM48 280h2v1h-2zM48 281h2v1h-2zM48 282h2v1h-2zM48 283h2v1h-2zM48 284h2v1h-2zM48 285h2v1h-2zM48 286h2v1h-2zM48 287h2v1h-2zM48 288h2v1h-2zM48 289h2v1h-2zM48 290h2v1h-2zM48 291h2v1h-2zM48 292h2v1h-2zM48 293h2v1h-2zM48 294h2v1h-2zM48 295h2v1h-2zM48 296h2v1h-2zM48 297h1v1h-1zM48 298h1v1h-1zM48 299h1v1h-1zM48 300h1v1h-1zM48 301h1v1h-1zM48 302h1v1h-1zM48 303h1v1h-1zM48 304h1v1h-1zM48 305h1v1h-1zM48 306h1v1h-1zM48 307h1v1h-1zM48 308h1v1h-1zM48 309h1v1h-1zM48 310h1v1h-1zM48 311h1v1h-1zM48 312h1v1h-1zM48 313h1v1h-1zM48 314h1v1h-1zM48 315h1v1h-1zM48 316h1v1h-1zM48 317h1v1h-1zM48 318h1v1h-1zM48 319h1v1h-1zM48 320h1v1h-1z"/>
<path fill="#0000c8" d="M947 9h1v1h-1zM946 10h1v1h-1zM934 11h12v1h-12zM933 12h1v1h-1zM922 13h11v1h-11zM920 14h2v1h-2zM917 15h3v1h-3zM915 16h2v1h-2zM909 17h6v1h-6zM908 18h1v1h-1zM904 19h4v1h-4zM903 20h1v1h-1zM897 21h6v1h-6zM896 22h1v1h-1zM882 23h14v1h-14zM881 24h1v1h-1zM867 25h14v1h-14zM866 26h1v1h-1zM862 27h4v1h-4zM861 28h1v1h-1zM855 29h6v1h-6zM853 30h2v1h-2zM840 31h13v1h-13zM839 32h1v1h-1zM828 33h11v1h-11zM826 34h2v1h-2zM813 35h13v1h-13zM811 36h2v1h-2zM800 37h11v1h-11zM799 38h1v1h-1zM786 39h13v1h-13zM784 40h2v1h-2zM771 41h13v1h-13zM769 42h2v1h-2zM758 43h11v1h-11zM757 44h1v1h-1zM744 45h13v1h-13zM742 46h2v1h-2zM729 47h13v1h-13zM727 48h2v1h-2zM709 49h18v1h-18zM707 50h2v1h-2zM697 51h10v1h-10zM695 52h2v1h-2zM684 53h11v1h-11zM683 54h1v1h-1zM672 55h11v1h-11zM670 56h2v1h-2zM659 57h11v1h-11zM658 58h1v1h-1zM651 59h7v1h-7zM650 60h1v1h-1zM642 61h8v1h-8zM641 62h1v1h-1zM634 63h7v1h-7zM632 64h2v1h-2zM625 65h7v1h-7zM624 66h1v1h-1zM619 67h5v1h-5zM617 68h2v1h-2zM615 69h2v1h-2zM614 70h1v1h-1zM613 71h1v1h-1zM613 72h1v1h-1zM612 73h1v1h-1zM611 74h1v1h-1zM610 75h1v1h-1zM609 76h1v1h-1zM609 77h1v1h-1zM608 78h1v1h-1zM604 79h4v1h-4zM603 80h1v1h-1zM595 81h8v1h-8zM594 82h1v1h-1zM585 83h9v1h-9zM584 84h1v1h-1zM575 85h9v1h-9zM574 86h1v1h-1zM564 87h10v1h-10zM563 88h1v1h-1zM562 89h1v1h-1zM561 90h1v1h-1zM560 91h1v1h-1zM559 92h1v1h-1zM558 93h1v1h-1zM556 94h2v1h-2zM549 95h7v1h-7zM547 96h2v1h-2zM546 97h1v1h-1zM545 98h1v1h-1zM544 99h1v1h-1zM544 100h1v1h-1zM544 101h1v1h-1zM544 102h1v1h-1zM543 103h1v1h-1zM543 104h1v1h-1zM542 105h2v1h-2zM540 106h2v1h-2zM533 107h7v1h-7zM532 108h1v1h-1zM523 109h9v1h-9zM521 110h2v1h-2zM518 111h3v1h-3zM517 112h1v1h-1zM516 113h1v1h-1zM515 114h1v1h-1zM508 115h7v1h-7zM507 116h1v1h-1zM503 117h4v1h-4zM502 118h1v1h-1zM491 119h11v1h-11zM490 120h1v1h-1zM476 121h14v1h-14zM476 122h1v1h-1zM475 123h1v1h-1zM475 124h1v1h-1zM474 125h1v1h-1zM472 126h2v1h-2zM454 127h18v1h-18zM452 128h2v1h-2zM439 129h13v1h-13zM438 130h1v1h-1zM436 131h2v1h-2zM435 132h1v1h-1zM434 133h1v1h-1zM434 134h1v1h-1zM433 135h1v1h-1zM433 136h1v1h-1zM425 137h8v1h-8zM424 138h1v1h-1zM423 139h1v1h-1zM423 140h1v1h-1zM422 141h1v1h-1zM421 142h1v1h-1zM414 143h7v1h-7zM413 144h1v1h-1zM404 145h9v1h-9zM403 146h1v1h-1zM399 147h4v1h-4zM398 148h1v1h-1zM393 149h5v1h-5zM392 150h1v1h-1zM392 151h1v1h-1zM391 152h1v1h-1zM387 153h4v1h-4zM386 154h1v1h-1zM385 155h1v1h-1zM384 156h1v1h-1zM377 157h7v1h-7zM376 158h1v1h-1zM367 159h9v1h-9zM365 160h2v1h-2zM362 161h3v1h-3zM361 162h1v1h-1zM360 163h1v1h-1zM358 164h2v1h-2zM352 165h6v1h-6zM351 166h1v1h-1zM343 167h8v1h-8zM341 168h2v1h-2zM335 169h6v1h-6zM334 170h1v1h-1zM320 171h14v1h-14zM319 172h1v1h-1zM318 173h1v1h-1zM316 174h2v1h-2zM315 175h1v1h-1zM314 176h1v1h-1zM300 177h14v1h-14zM299 178h1v1h-1zM294 179h5v1h-5zM292 180h2v1h-2zM285 181h7v1h-7zM284 182h1v1h-1zM278 183h6v1h-6zM277 184h1v1h-1zM271 185h6v1h-6zM269 186h2v1h-2zM260 187h9v1h-9zM258 188h2v1h-2zM251 189h7v1h-7zM250 190h1v1h-1zM244 191h6v1h-6zM242 192h2v1h-2zM229 193h13v1h-13zM227 194h2v1h-2zM216 195h11v1h-11zM215 196h1v1h-1zM209 197h6v1h-6zM206 198h3v1h-3zM204 199h2v1h-2zM202 200h2v1h-2zM197 201h5v1h-5zM195 202h2v1h-2zM187 203h8v1h-8zM185 204h2v1h-2zM179 205h6v1h-6zM178 206h1v1h-1zM178 207h1v1h-1zM177 208h1v1h-1zM177 209h1v1h-1zM176 210h1v1h-1zM176 211h1v1h-1zM175 212h1v1h-1zM175 213h1v1h-1zM174 214h1v1h-1zM174 215h1v1h-1zM173 216h1v1h-1zM173 217h1v1h-1zM167 218h6v1h-6zM165 219h2v1h-2zM154 220h11v1h-11zM153 221h1v1h-1zM142 222h11v1h-11zM141 223h1v1h-1zM139 224h2v1h-2zM138 225h1v1h-1zM137 226h1v1h-1zM136 227h1v1h-1zM135 228h1v1h-1zM133 229h2v1h-2zM132 230h1v1h-1zM131 231h1v1h-1zM127 232h4v1h-4zM126 233h1v1h-1zM117 234h9v1h-9zM116 235h1v1h-1zM109 236h7v1h-7zM107 237h2v1h-2zM105 238h2v1h-2zM103 239h2v1h-2zM102 240h1v1h-1zM101 241h1v1h-1zM100 242h1v1h-1zM97 243h3v1h-3zM95 244h2v1h-2zM94 245h1v1h-1zM94 246h1v1h-1zM91 247h3v1h-3zM90 248h1v1h-1zM90 249h1v1h-1zM89 250h1v1h-1zM86 251h3v1h-3zM84 252h2v1h-2zM82 253h2v1h-2zM79 254h3v1h-3zM75 255h4v1h-4zM73 256h2v1h-2zM71 257h2v1h-2zM70 258h1v1h-1zM69 259h1v1h-1zM67 260h2v1h-2zM65 261h2v1h-2zM63 262h2v1h-2zM63 263h1v1h-1zM63 264h1v1h-1zM63 265h1v1h-1zM62 266h1v1h-1zM62 267h1v1h-1zM62 268h1v1h-1zM62 269h1v1h-1zM62 270h1v1h-1zM62 271h1v1h-1zM62 272h1v1h-1zM62 273h1v1h-1zM61 274h2v1h-2zM61 275h1v1h-1zM61 276h1v1h-1zM61 277h1v1h-1zM61 278h1v1h-1zM61 279h1v1h-1zM61 280h1v1h-1zM61 281h1v1h-1zM60 282h2v1h-2zM60 283h1v1h-1zM60 284h1v1h-1zM60 285h1v1h-1zM60 286h1v1h-1zM60 287h1v1h-1zM60 288h1v1h-1zM60 289h1v1h-1zM60 290h1v1h-1zM59 291h2v1h-2zM59 292h1v1h-1zM59 293h1v1h-1zM59 294h1v1h-1zM59 295h1v1h-1zM59 296h1v1h-1zM59 297h1v1h-1zM59 298h1v1h-1zM59 299h1v1h-1zM59 300h1v1h-1zM59 301h1v1h-1zM59 302h1v1h-1zM58 303h2v1h-2zM58 304h1v1h-1zM58 305h1v1h-1zM58 306h1v1h-1zM58 307h1v1h-1zM58 308h1v1h-1zM58 309h1v1h-1zM58 310h1v1h-1zM58 311h1v1h-1zM58 312h1v1h-1zM58 313h1v1h-1zM58 314h1v1h-1zM57 315h2v1h-2zM57 316h1v1h-1zM57 317h1v1h-1zM57 318h1v1h-1zM57 319h1v1h-1zM57 320h1v1h-1zM57 321h1v1h-1zM57 322h1v1h-1zM57 323h1v1h-1zM56 324h2v1h-2zM56 325h1v1h-1zM56 326h1v1h-1zM56 327h1v1h-1zM56 328h1v1h-1zM56 329h1v1h-1zM56 330h1v1h-1zM56 331h1v1h-1zM56 332h1v1h-1zM55 333h2v1h-2zM55 334h1v1h-1zM55 335h1v1h-1zM55 336h1v1h-1zM55 337h1v1h-1zM55 338h1v1h-1zM55 339h1v1h-1zM55 340h1v1h-1zM55 341h1v1h-1zM55 342h1v1h-1zM55 343h1v1h-1zM55 344h1v1h-1zM55 345h1v1h-1zM55 346h1v1h-1zM54 347h2v1h-2zM54 348h1v1h-1zM54 349h1v1h-1zM54 350h1v1h-1zM54 351h1v1h-1zM54 352h1v1h-1zM54 353h1v1h-1zM54 354h1v1h-1zM54 355h1v1h-1zM54 356h1v1h-1zM54 357h1v1h-1zM54 358h1v1h-1zM54 359h1v1h-1zM54 360h1v1h-1zM54 361h1v1h-1zM53 362h2v1h-2zM53 363h1v1h-1zM53 364h1v1h-1zM53 365h1v1h-1zM53 366h1v1h-1zM53 367h1v1h-1zM53 368h1v1h-1zM53 369h1v1h-1zM53 370h1v1h-1zM53 371h1v1h-1zM52 372h2v1h-2zM52 373h1v1h-1zM52 374h1v1h-1zM52 375h1v1h-1zM52 376h1v1h-1zM52 377h1v1h-1zM52 378h1v1h-1zM52 379h1v1h-1zM52 380h1v1h-1zM52 381h1v1h-1zM52 382h1v1h-1zM52 383h1v1h-1zM52 384h1v1h-1zM51 385h2v1h-2zM51 386h1v1h-1zM51 387h1v1h-1zM51 388h1v1h-1zM51 389h1v1h-1zM51 390h1v1h-1zM51 391h1v1h-1zM51 392h1v1h-1zM51 393h1v1h-1zM51 394h1v1h-1zM50 395h2v1h-2zM50 396h1v1h-1zM50 397h1v1h-1zM50 398h1v1h-1zM50 399h1v1h-1zM50 400h1v1h-1zM50 401h1v1h-1zM49 402h2v1h-2zM49 403h1v1h-1zM49 404h1v1h-1zM49 405h1v1h-1zM49 406h1v1h-1zM49 407h1v1h-1zM49 408h1v1h-1zM49 409h1v1h-1zM45 410h5v1h-5z"/>
</g>
</svg>
</body></html>
